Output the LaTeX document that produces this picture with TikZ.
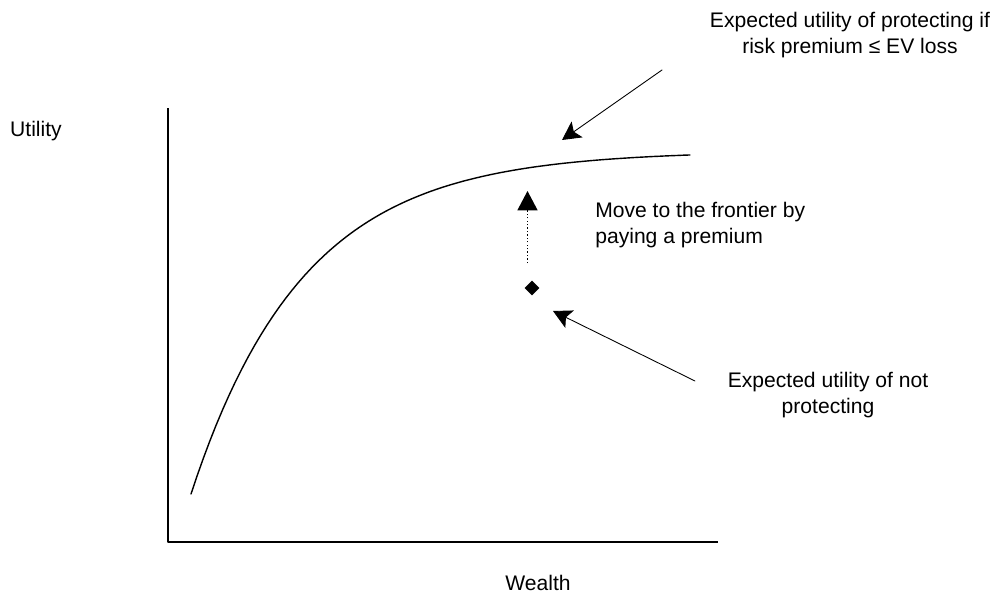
\documentclass[tikz,border=0pt]{standalone}
\usepackage{fontspec}
\setmainfont{Liberation Sans}
\usetikzlibrary{arrows.meta,shapes.geometric}

\begin{document}
\begin{tikzpicture}[x=0.02cm, y=-0.02cm, line cap=round, line join=round,
    lbl/.style={font=\fontsize{12}{14.6}\selectfont, inner sep=0pt},
    pointer/.style={-{Stealth[length=10.5pt, width=11pt, inset=2.3pt]}, line width=0.5pt},
    lift/.style={-{Triangle[length=11pt, width=11.4pt]}, line width=0.75pt, dash pattern=on 0.75pt off 1.2pt, line cap=butt}]

    \useasboundingbox (0,0) rectangle (998,595);

    % Axes
    \coordinate (o) at (168,542);
    \draw[line width=0.8pt, line cap=butt] (168,108) -- (o) -- (718,542);
    \node[lbl] (ylab) at (36,131) {Utility};
    \node[lbl] (xlab) at (538,583) {Wealth};

    % Utility curve
    \draw[line width=0.8pt] plot[domain=191:690, samples=80]
        (\x, {151 + 343*exp(-(\x-191)/112)});

    % Expected utility of not protecting
    \node[diamond, fill, inner sep=0pt, minimum size=8.5pt] (eu) at (532,288) {};

    % Move to frontier
    \coordinate (liftstart) at (527.5,263);
    \coordinate (lifttip) at (527.5,191);
    \draw[lift] (liftstart) -- (lifttip);

    % Labels
    \node[lbl, align=center] (toptext) at (850,35)
        {Expected utility of protecting if\\risk premium ≤ EV loss};
    \node[lbl, align=left, anchor=west] (movetext) at (595,225)
        {Move to the frontier by\\paying a premium};
    \node[lbl, align=center] (nottext) at (828,395)
        {Expected utility of not\\protecting};

    % Pointers
    \coordinate (topfrom) at (662,70);
    \coordinate (topto) at (562,140);
    \draw[pointer] (topfrom) -- (topto);
    \coordinate (notfrom) at (695,381);
    \coordinate (notto) at (553,311);
    \draw[pointer] (notfrom) -- (notto);

\end{tikzpicture}
\end{document}
